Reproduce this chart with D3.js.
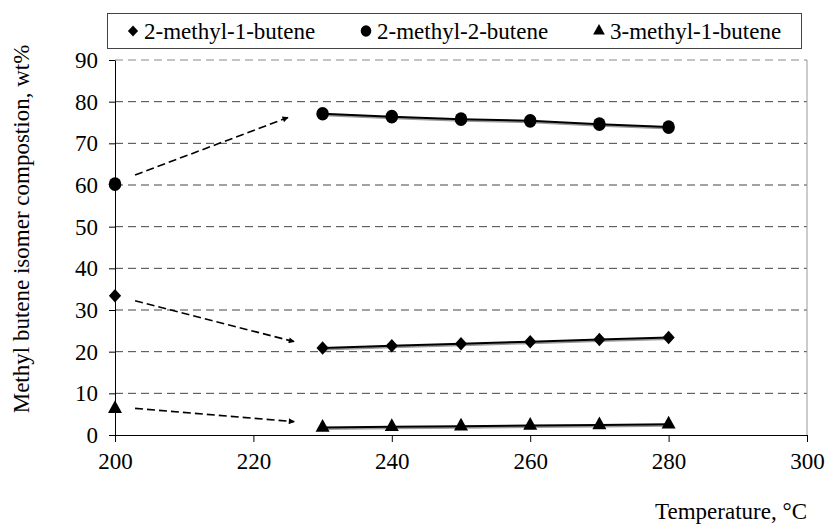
<!DOCTYPE html>
<html>
<head>
<meta charset="utf-8">
<script src="https://cdn.jsdelivr.net/npm/d3@7"></script>
<style>
  body { margin: 0; background: #fff; }
</style>
</head>
<body>
<svg id="chart" width="829" height="524"></svg>
<script>
// temperatures, °C
const temps = [200, 230, 240, 250, 260, 270, 280];
// isomer composition, wt%
const m1b = [33.4, 20.9, 21.4, 21.9, 22.4, 22.9, 23.4]; // 2-methyl-1-butene
const m2b = [60.2, 77.1, 76.4, 75.8, 75.4, 74.6, 73.9]; // 2-methyl-2-butene
const m3b = [6.3, 1.8, 2.0, 2.1, 2.3, 2.4, 2.6];        // 3-methyl-1-butene
const xTicks = [200, 220, 240, 260, 280, 300];
const yTicks = [0, 10, 20, 30, 40, 50, 60, 70, 80, 90];
// dashed arrows from the 200 °C feed point to the reactor series
const arrows = [
  [[202.9, 62.4], [225.0, 76.2]],
  [[202.9, 32.2], [225.9, 22.4]],
  [[202.9, 6.4], [225.9, 3.2]]
];

const FONT = "'Liberation Serif', 'Times New Roman', Times, serif";

const series = [
  { name: "2-methyl-1-butene", values: m1b, symbol: d3.symbolDiamond2, size: 95, sy: 1.1 },
  { name: "2-methyl-2-butene", values: m2b, symbol: d3.symbolCircle, size: 125, sy: 1.08 },
  { name: "3-methyl-1-butene", values: m3b, symbol: d3.symbolTriangle, size: 85, sy: 1.05 }
];

const svg = d3.select("#chart")
  .style("display", "block")
  .attr("font-family", FONT);
const x = d3.scaleLinear().domain([200, 300]).range([115, 807]);
const y = d3.scaleLinear().domain([0, 90]).range([435, 60]);

// arrow marker
svg.append("defs").append("marker")
  .attr("id", "head")
  .attr("viewBox", "0 0 10 10")
  .attr("refX", 9).attr("refY", 5)
  .attr("markerWidth", 7).attr("markerHeight", 6)
  .attr("markerUnits", "userSpaceOnUse")
  .attr("orient", "auto")
  .append("path").attr("d", "M0,0L10,5L0,10z").attr("fill", "#000");

// gridlines
svg.append("g")
  .selectAll("line")
  .data(yTicks.filter(d => d > 0))
  .join("line")
  .attr("x1", x(200)).attr("x2", x(300))
  .attr("y1", d => y(d)).attr("y2", d => y(d))
  .attr("stroke", d => d === 90 ? "#888" : "#444")
  .attr("stroke-width", 1)
  .attr("stroke-dasharray", "8,5");

// right border
svg.append("line")
  .attr("x1", x(300)).attr("x2", x(300))
  .attr("y1", y(90)).attr("y2", y(0))
  .attr("stroke", "#999");

// axes
const xAxis = d3.axisBottom(x).tickValues(xTicks).tickSize(7).tickSizeOuter(0).tickPadding(11);
const gx = svg.append("g").attr("transform", `translate(0,${y(0)})`).call(xAxis)
  .attr("font-family", FONT).attr("font-size", 23);
gx.selectAll("text").attr("fill", "#000");
gx.selectAll("line, path").attr("stroke", "#000");

const yAxis = d3.axisLeft(y).tickValues(yTicks).tickSize(6).tickSizeOuter(0).tickPadding(11);
const gy = svg.append("g").attr("transform", `translate(${x(200)},0)`).call(yAxis)
  .attr("font-family", FONT).attr("font-size", 23);
gy.selectAll("text").attr("fill", "#000");
gy.selectAll("line, path").attr("stroke", "#000");

// axis titles
svg.append("text")
  .attr("transform", "translate(29,229) rotate(-90)")
  .attr("text-anchor", "middle")
  .attr("font-size", 23)
  .text("Methyl butene isomer compostion, wt%");

svg.append("text")
  .attr("x", 807).attr("y", 519)
  .attr("text-anchor", "end")
  .attr("font-size", 23)
  .text("Temperature, °C");

// dashed arrows
svg.append("g")
  .selectAll("line")
  .data(arrows)
  .join("line")
  .attr("x1", d => x(d[0][0])).attr("y1", d => y(d[0][1]))
  .attr("x2", d => x(d[1][0])).attr("y2", d => y(d[1][1]))
  .attr("stroke", "#000")
  .attr("stroke-width", 1.6)
  .attr("stroke-dasharray", "8,4")
  .attr("marker-end", "url(#head)");

// series lines (from 230 °C on) and markers
const line = d3.line().x(d => x(d[0])).y(d => y(d[1]));
series.forEach(s => {
  const pts = temps.map((t, i) => [t, s.values[i]]);
  const g = svg.append("g");
  g.append("path")
    .attr("d", line(pts.slice(1)))
    .attr("fill", "none")
    .attr("stroke", "#999")
    .attr("stroke-width", 2)
    .attr("transform", "translate(1,1.5)");
  g.append("path")
    .attr("d", line(pts.slice(1)))
    .attr("fill", "none")
    .attr("stroke", "#000")
    .attr("stroke-width", 2);
  g.selectAll(".pt")
    .data(pts)
    .join("path")
    .attr("class", "pt")
    .attr("d", d3.symbol(s.symbol, s.size))
    .attr("transform", d => `translate(${x(d[0])},${y(d[1])}) scale(1,${s.sy})`)
    .attr("fill", "#000");
});

// legend
const legend = svg.append("g");
legend.append("rect")
  .attr("x", 107.5).attr("y", 13.5)
  .attr("width", 694).attr("height", 35)
  .attr("fill", "#fff").attr("stroke", "#444");
const legX = [133, 366, 599];
const items = legend.selectAll(".item")
  .data(series)
  .join("g")
  .attr("class", "item")
  .attr("transform", (d, i) => `translate(${legX[i]},31)`);
items.append("path")
  .attr("d", d => d3.symbol(d.symbol, d.size * 0.7)())
  .attr("transform", d => `scale(1,${d.sy})`)
  .attr("fill", "#000");
items.append("text")
  .attr("x", 11).attr("y", 8)
  .attr("font-size", 23)
  .text(d => d.name);
</script>
</body>
</html>
